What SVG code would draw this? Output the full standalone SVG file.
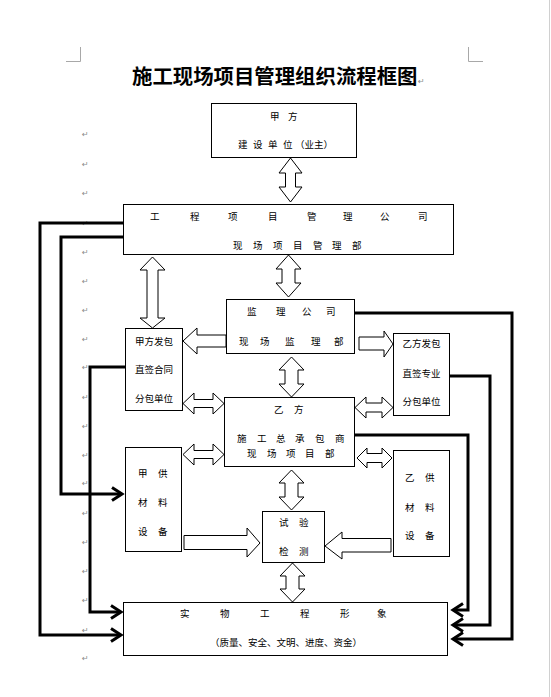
<svg xmlns="http://www.w3.org/2000/svg" width="551" height="697" viewBox="0 0 551 697">
<style>
.box{fill:#fff;stroke:#000;stroke-width:1}
.blk{fill:#fff;stroke:#000;stroke-width:1;stroke-linejoin:miter}
.ln{fill:none;stroke:#000;stroke-width:3;stroke-linejoin:miter}
.t{font-family:"Noto Sans CJK SC","Liberation Sans",sans-serif;font-size:9.5px;fill:#000}
.tm{text-anchor:middle}
.title{font-family:"Noto Sans CJK SC","Liberation Sans",sans-serif;font-size:20.4px;font-weight:bold;fill:#000}
.pm{font-family:"DejaVu Sans",sans-serif;font-size:8px;fill:#8a8a8a}
.mark{fill:none;stroke:#a8a8a8;stroke-width:1}
</style>
<rect x="0" y="0" width="551" height="697" fill="#fff"/>
<line x1="549.5" y1="0" x2="549.5" y2="697" stroke="#d0d0d0" stroke-width="1"/>
<path class="mark" d="M80.5,47 V61.5 H66 M468.5,47 V61.5 H483"/>
<text class="title" x="132" y="84">施工现场项目管理组织流程框图</text>
<g id="para-marks">
<text class="pm" x="418" y="84">↵</text>
<text class="pm" x="82" y="137">↵</text>
<text class="pm" x="82" y="167">↵</text>
<text class="pm" x="82" y="196">↵</text>
<text class="pm" x="82" y="226">↵</text>
<text class="pm" x="82" y="255">↵</text>
<text class="pm" x="82" y="284">↵</text>
<text class="pm" x="82" y="313">↵</text>
<text class="pm" x="82" y="342">↵</text>
<text class="pm" x="82" y="370">↵</text>
<text class="pm" x="82" y="400">↵</text>
<text class="pm" x="82" y="429">↵</text>
<text class="pm" x="82" y="458">↵</text>
<text class="pm" x="82" y="486">↵</text>
<text class="pm" x="82" y="516">↵</text>
<text class="pm" x="82" y="545">↵</text>
<text class="pm" x="82" y="574">↵</text>
<text class="pm" x="82" y="603">↵</text>
<text class="pm" x="82" y="633">↵</text>
<text class="pm" x="82" y="661">↵</text>
</g>
<g id="connectors">
<path class="blk" d="M290.5,158 L302,173 L295.5,173 L295.5,187 L302,187 L290.5,202 L279,187 L285.5,187 L285.5,173 L279,173 Z"/>
<path class="blk" d="M288.5,255 L301,269 L295,269 L295,283 L301,283 L288.5,297 L276,283 L282,283 L282,269 L276,269 Z"/>
<path class="blk" d="M152.5,257 L165,270 L158,270 L158,318 L165,318 L152.5,328 L140,318 L147,318 L147,270 L140,270 Z"/>
<path class="blk" d="M291.5,357 L304,370 L298,370 L298,384 L304,384 L291.5,397 L279,384 L285,384 L285,370 L279,370 Z"/>
<path class="blk" d="M291.5,470 L304,483 L298,483 L298,497 L304,497 L291.5,510 L279,497 L285,497 L285,483 L279,483 Z"/>
<path class="blk" d="M292.5,563 L305,576 L299,576 L299,589 L305,589 L292.5,602 L280,589 L286,589 L286,576 L280,576 Z"/>
<path class="blk" d="M183,403.5 L194,393 L194,399.5 L213,399.5 L213,393 L224,403.5 L213,414 L213,407.5 L194,407.5 L194,414 Z"/>
<path class="blk" d="M355,407.5 L366,397 L366,403 L382,403 L382,397 L393,407.5 L382,418 L382,412 L366,412 L366,418 Z"/>
<path class="blk" d="M183,454.5 L194,444 L194,450.5 L213,450.5 L213,444 L224,454.5 L213,465 L213,458.5 L194,458.5 L194,465 Z"/>
<path class="blk" d="M357,458 L367,448 L367,453.5 L382,453.5 L382,448 L392,458 L382,468 L382,462.5 L367,462.5 L367,468 Z"/>
<path class="blk" d="M183,341 L197,328 L197,335 L226,335 L226,347 L197,347 L197,354 Z"/>
<path class="blk" d="M359,337 L384,337 L384,331 L393,344 L384,357 L384,350 L359,350 Z"/>
<path class="blk" d="M184,535.5 L247,535.5 L247,528 L260,543 L247,557 L247,549.5 L184,549.5 Z"/>
<path class="blk" d="M325,546 L342,532 L342,538.5 L391,538.5 L391,552 L342,552 L342,559 Z"/>
<path class="ln" d="M123,223 H40 V635 H120"/>
<path class="ln" d="M111,628.5 L121,635 L111,641.5"/>
<path class="ln" d="M123,237 H61 V494 H121"/>
<path class="ln" d="M112,487.5 L122,494 L112,500.5"/>
<path class="ln" d="M125,367 H90 V612 H120"/>
<path class="ln" d="M111,605.5 L121,612 L111,618.5"/>
<path class="ln" d="M354,313 H512 V639 H454"/>
<path class="ln" d="M463,632.5 L453,639 L463,645.5"/>
<path class="ln" d="M449,376 H490 V625 H454"/>
<path class="ln" d="M463,618.5 L453,625 L463,631.5"/>
<path class="ln" d="M354,435 H468 V610 H454"/>
<path class="ln" d="M463,603.5 L453,610 L463,616.5"/>
</g>
<g id="node-jiafang">
<rect class="box" x="211.5" y="103.5" width="145" height="54"/>
<text class="t" x="270 288" y="120">甲方</text>
<text class="t" x="238 253 268 283 295" y="147.5">建设单位（业主）</text>
</g>
<g id="node-gongcheng">
<rect class="box" x="123.5" y="204.5" width="330" height="50"/>
<text class="t" x="150 190 228 268 307 343 380 418" y="219.5">工程项目管理公司</text>
<text class="t" x="233 253 273 293 313 332 352" y="248.5">现场项目管理部</text>
</g>
<g id="node-jianli">
<rect class="box" x="226.5" y="299.5" width="128" height="54"/>
<text class="t" x="247 276 302 326" y="314.5">监理公司</text>
<text class="t" x="239 260 285 311 334" y="344.5">现场监理部</text>
</g>
<g id="node-jiafang-fenbao">
<rect class="box" x="125.5" y="328.5" width="57" height="82"/>
<text class="t tm" x="154" y="344.5">甲方发包</text>
<text class="t tm" x="154" y="372.5">直签合同</text>
<text class="t tm" x="154" y="401.5">分包单位</text>
</g>
<g id="node-yifang-fenbao">
<rect class="box" x="393.5" y="333.5" width="56" height="82"/>
<text class="t tm" x="421.5" y="346.5">乙方发包</text>
<text class="t tm" x="421.5" y="376.5">直签专业</text>
<text class="t tm" x="421.5" y="404.5">分包单位</text>
</g>
<g id="node-yifang">
<rect class="box" x="224.5" y="397.5" width="130" height="69"/>
<text class="t" x="274 294" y="412.5">乙方</text>
<text class="t" x="237 257 276 295 315 335" y="441.5">施工总承包商</text>
<text class="t" x="247 267 286 305 325" y="456.5">现场项目部</text>
</g>
<g id="node-jiagong">
<rect class="box" x="125.5" y="447.5" width="56" height="104"/>
<text class="t" x="138 158" y="476.5">甲供</text>
<text class="t" x="138 158" y="505.5">材料</text>
<text class="t" x="138 158" y="534.5">设备</text>
</g>
<g id="node-yigong">
<rect class="box" x="393.5" y="450.5" width="56" height="106"/>
<text class="t" x="405 425" y="480.5">乙供</text>
<text class="t" x="405 425" y="510.5">材料</text>
<text class="t" x="405 425" y="538.5">设备</text>
</g>
<g id="node-shiyan">
<rect class="box" x="262.5" y="511.5" width="62" height="51"/>
<text class="t" x="279 299" y="525.5">试验</text>
<text class="t" x="279 299" y="554.5">检测</text>
</g>
<g id="node-shiwu">
<rect class="box" x="123.5" y="602.5" width="324" height="53"/>
<text class="t" x="180 220 260 300 340 377" y="616.5">实物工程形象</text>
<text class="t" x="210" y="645.5">（质量、安全、文明、进度、资金）</text>
</g>
</svg>
